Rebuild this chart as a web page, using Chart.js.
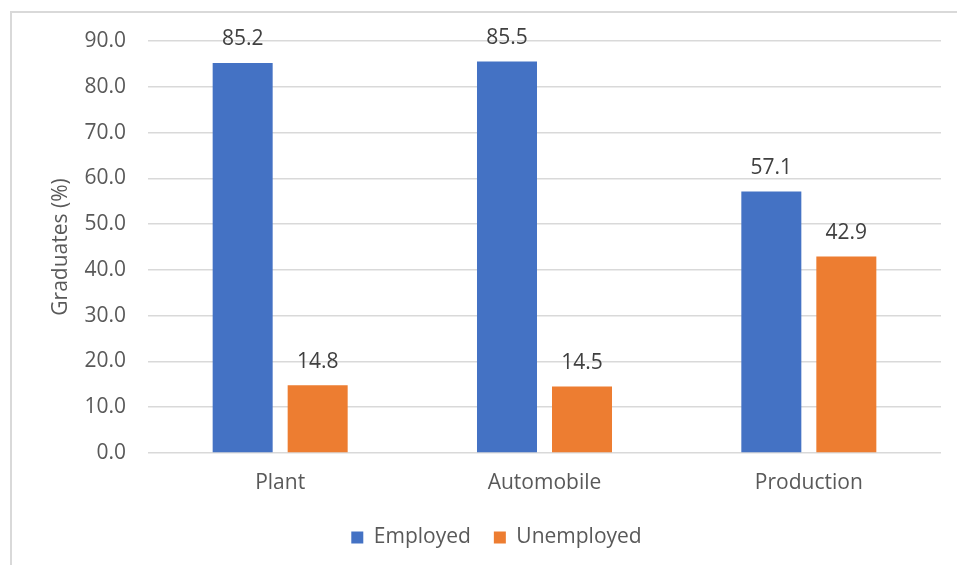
<!DOCTYPE html>
<html>
<head>
<meta charset="utf-8">
<script src="https://cdn.jsdelivr.net/npm/chart.js@4.4.1/dist/chart.umd.min.js"></script>
<style>
  html, body { margin: 0; padding: 0; background: #fff; overflow: hidden; }
  #frame {
    position: absolute; left: 10px; top: 11px; width: 1000px; height: 1000px;
    border-left: 2px solid #d9d9d9; border-top: 2px solid #d9d9d9;
  }
  #chart { position: absolute; left: 0; top: 0; }
</style>
</head>
<body>
<div id="frame"></div>
<canvas id="chart" width="957" height="565"></canvas>
<script>
// graduate outcomes by programme
const programmes = ['Plant', 'Automobile', 'Production'];
const employed = [85.2, 85.5, 57.1];
const unemployed = [14.8, 14.5, 42.9];
const yTicks = [0, 10, 20, 30, 40, 50, 60, 70, 80, 90];

const FONT = '"Open Sans", Lato, sans-serif';
const GREY = '#595959';

// value labels above each bar
const barLabels = {
  id: 'barLabels',
  afterDatasetsDraw(chart){
    const ctx = chart.ctx;
    ctx.save();
    ctx.font = '21px ' + FONT;
    ctx.fillStyle = '#404040';
    ctx.textAlign = 'center';
    ctx.textBaseline = 'bottom';
    chart.data.datasets.forEach((ds, i)=>{
      const meta = chart.getDatasetMeta(i);
      meta.data.forEach((bar, j)=>{
        ctx.fillText(ds.data[j].toFixed(1), bar.x, bar.y - 13);
      });
    });
    ctx.restore();
  }
};

// nudge the legend to the right of the canvas centre
const legendShift = {
  id: 'legendShift',
  afterLayout(chart){
    const lg = chart.legend;
    if(!lg) return;
    lg.left += 26;
    lg.right += 26;
    lg.top += 2;
    lg.bottom += 2;
  }
};

new Chart(document.getElementById('chart'), {
  type: 'bar',
  data: {
    labels: programmes,
    datasets: [
      { label: 'Employed', data: employed, backgroundColor: '#4472C4' },
      { label: 'Unemployed', data: unemployed, backgroundColor: '#ED7D31' }
    ]
  },
  options: {
    responsive: false,
    animation: false,
    devicePixelRatio: 1,
    layout: { padding: { left: 0, right: 16, top: 41, bottom: 9 } },
    datasets: { bar: { categoryPercentage: 0.5675, barPercentage: 0.8 } },
    scales: {
      x: {
        grid: { display: false },
        border: { display: false },
        ticks: { color: GREY, font: { family: FONT, size: 21 }, padding: 9 },
        afterFit(scale){ scale.height = 49; }
      },
      y: {
        min: 0, max: 90,
        afterBuildTicks(scale){ scale.ticks = yTicks.map(v => ({ value: v })); },
        grid: { color: '#d9d9d9', lineWidth: 1.5, drawTicks: false },
        border: { display: false },
        ticks: {
          color: GREY, font: { family: FONT, size: 21 }, padding: 22,
          callback: v => v.toFixed(1)
        },
        title: {
          display: true, text: 'Graduates (%)', color: GREY,
          font: { family: FONT, size: 21 }, padding: { top: 48, bottom: 0 }
        },
        afterFit(scale){ scale.width = 148; }
      }
    },
    plugins: {
      legend: {
        position: 'bottom',
        labels: {
          color: GREY, font: { family: FONT, size: 21 },
          boxWidth: 12, boxHeight: 12, padding: 23
        }
      },
      tooltip: { enabled: false }
    }
  },
  plugins: [barLabels, legendShift]
});
</script>
</body>
</html>
